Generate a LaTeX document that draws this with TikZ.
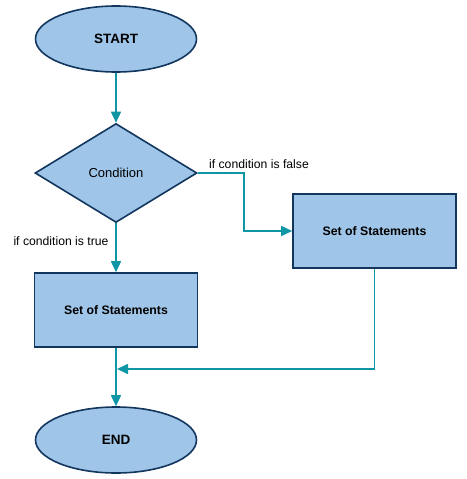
\documentclass[tikz,border=0pt]{standalone}
\usepackage{fontspec}
\setmainfont{Liberation Sans}
\usetikzlibrary{shapes.geometric,arrows.meta}
\definecolor{boxfill}{RGB}{159,197,232}
\definecolor{boxline}{RGB}{18,54,94}
\definecolor{flowline}{RGB}{14,150,165}

\begin{document}
\begin{tikzpicture}[x=1pt, y=-1pt,
	block/.style={draw=boxline, fill=boxfill, line width=1.6pt, inner sep=0pt},
	terminal/.style={block, ellipse, minimum width=161pt, minimum height=66pt, font=\fontsize{13.5}{15}\selectfont\bfseries},
	decide/.style={block, diamond, minimum width=162pt, minimum height=99pt, font=\fontsize{13}{15}\selectfont},
	process/.style={block, rectangle, minimum width=163pt, minimum height=74pt, font=\fontsize{12.3}{14}\selectfont\bfseries},
	note/.style={font=\fontsize{12.2}{14}\selectfont, inner sep=0pt},
	flow/.style={draw=flowline, line width=1.6pt, -{Triangle[length=11pt,width=10pt]}}]
			%%%%% START %%%%%
			
			\useasboundingbox (0, 0) rectangle (466, 479);
			
			\node[terminal] (start) at (116, 39) {START};
			\node[decide] (cond) at (116, 173) {Condition};
			\node[process] (stmtTrue) at (116, 310) {Set of Statements};
			\node[process] (stmtFalse) at (374.5, 231) {Set of Statements};
			\node[terminal] (stop) at (116, 440) {END};
			
			\node[note] (falseLbl) at (259, 164) {if condition is false};
			\node[note] (trueLbl) at (61, 241) {if condition is true};
			
			\coordinate (bend) at (244, 173);
			\coordinate (join) at (117, 369);
			
			\draw[flow] (start) -- (cond);
			\draw[flow] (cond) -- (stmtTrue);
			\draw[flow] (cond.east) -- (bend) |- (stmtFalse.west);
			\draw[flow] (stmtFalse.south) |- (join);
			\draw[flow] (stmtTrue) -- (stop);
			
			%%%%% END %%%%%
\end{tikzpicture}
\end{document}
